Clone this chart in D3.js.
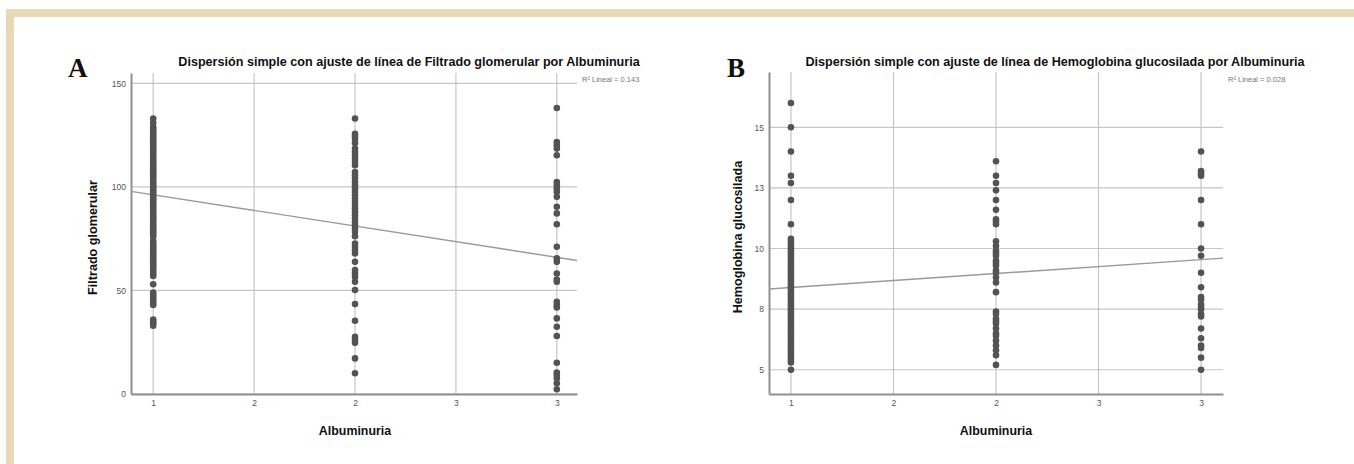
<!DOCTYPE html>
<html>
<head>
<meta charset="utf-8">
<script src="https://cdn.jsdelivr.net/npm/d3@7"></script>
<style>
  html, body { margin: 0; padding: 0; background: #ffffff; }
  svg { display: block; }
</style>
</head>
<body>
<svg id="chart" width="1354" height="464"></svg>
<script>
// ---------- DATA ----------
const xTickValues = [1, 1.5, 2, 2.5, 3];
const xTickLabels = ["1", "2", "2", "3", "3"];

// Panel A: Filtrado glomerular by Albuminuria
const aTickValues = [0, 50, 100, 150];
const aTickLabels = ["0", "50", "100", "150"];
const aGroup1 = [133, 131, 129, 128, 127, 126, 125, 124, 123, 122, 121, 120, 119, 118, 117, 116, 115, 114, 113, 112,
  111, 110, 109, 108, 107, 106, 105, 104, 103, 102, 101, 100, 99, 98, 97, 96, 95, 94, 93, 92, 91, 90, 89, 88, 87,
  86, 85, 84, 83, 82, 81, 80, 79, 78, 77, 76, 74, 73, 72, 71, 70, 69, 68, 67, 66, 65, 64, 63, 62, 61, 60, 59, 58,
  57, 53, 49, 48, 47, 46, 45, 44, 43, 36, 35, 34, 33];
const aGroup2 = [133, 125.7, 124.5, 123.3, 121.2, 118.5, 116.9, 115.3, 113.7, 112.1, 110.5, 107.2, 105.6, 104, 102.4,
  100.8, 99.2, 97.6, 96, 94.4, 92.8, 91.2, 89.6, 87.9, 86.3, 84.7, 83.1, 81.5, 79.9, 78.3, 76.2, 72.7, 71.1, 69.5,
  67.9, 63.8, 59.8, 58.2, 56.6, 54.2, 50.2, 43.4, 35.4, 27.6, 26, 24.7, 17.2, 10];
const aGroup3 = [138.1, 121.7, 120.1, 118.5, 115.3, 102.4, 100.8, 99.2, 97.6, 95.2, 90.4, 87.2, 82, 71.1, 65.5, 63.8,
  58.2, 55.3, 54.2, 44.5, 42.9, 41.8, 36.5, 32.5, 28, 15.1, 10.3, 9.2, 7.6, 5.2, 2.3];
const aFit = [111.3, -15.1];   // intercept, slope
const aR2 = "R² Lineal = 0.143";

// Panel B: Hemoglobina glucosilada by Albuminuria
const bTickValues = [5, 7.5, 10, 12.5, 15];
const bTickLabels = ["5", "8", "10", "13", "15"];
const bGroup1 = [16, 15, 14, 13, 12.7, 12, 11, 10.4, 10.3, 10.2, 10.1, 10, 9.9, 9.8, 9.7, 9.6, 9.5, 9.4, 9.3, 9.2,
  9.1, 9, 8.9, 8.8, 8.7, 8.6, 8.5, 8.4, 8.3, 8.2, 8.1, 8, 7.9, 7.8, 7.7, 7.6, 7.5, 7.4, 7.3, 7.2, 7.1, 7, 6.9, 6.8,
  6.7, 6.6, 6.5, 6.4, 6.3, 6.2, 6.1, 6, 5.9, 5.8, 5.7, 5.6, 5.5, 5.4, 5.3, 5];
const bGroup2 = [13.6, 13, 12.7, 12.4, 12, 11.6, 11.2, 11.1, 11, 10.3, 10.1, 9.9, 9.8, 9.7, 9.5, 9.4, 9.3, 9.1, 9,
  8.8, 8.6, 8.2, 7.4, 7.3, 7.1, 7, 6.9, 6.7, 6.5, 6.4, 6.2, 6, 5.8, 5.6, 5.2];
const bGroup3 = [14, 13.2, 13.1, 13, 12, 11, 10, 9.7, 9, 8.4, 8, 7.9, 7.7, 7.6, 7.5, 7.3, 7.2, 6.7, 6.3, 6, 5.9, 5.5, 5];
const bFit = [7.82, 0.574];
const bR2 = "R² Lineal = 0.028";

const xTitle = "Albuminuria";

// ---------- DRAW ----------
const svg = d3.select("#chart");
const FONT = "'Liberation Sans', Arial, sans-serif";

// page frame (beige band on top and left)
svg.append("rect").attr("x", 6).attr("y", 9).attr("width", 1348).attr("height", 8).attr("fill", "#e7d8b8");
svg.append("rect").attr("x", 6).attr("y", 9).attr("width", 8).attr("height", 455).attr("fill", "#e7d8b8");

function panel(cfg) {
  const g = svg.append("g");
  const x = d3.scaleLinear().domain(cfg.xDomain).range([cfg.left, cfg.right]);
  const y = d3.scaleLinear().domain(cfg.yDomain).range([cfg.bottom, cfg.top]);

  // horizontal gridlines
  g.selectAll(".hg").data(cfg.yTicks).join("line")
    .attr("x1", cfg.left).attr("x2", cfg.right)
    .attr("y1", d => y(d)).attr("y2", d => y(d))
    .attr("stroke", "#c6c6c6").attr("stroke-width", 1.2);
  // vertical gridlines
  g.selectAll(".vg").data(xTickValues).join("line")
    .attr("x1", d => x(d)).attr("x2", d => x(d))
    .attr("y1", cfg.top).attr("y2", cfg.bottom)
    .attr("stroke", "#c6c6c6").attr("stroke-width", 1.2);

  // axes via d3 axis generators
  const xAxis = d3.axisBottom(x).tickValues(xTickValues)
    .tickFormat((d, i) => xTickLabels[i]).tickSize(0).tickPadding(6);
  const yAxis = d3.axisLeft(y).tickValues(cfg.yTicks)
    .tickFormat((d, i) => cfg.yLabels[i]).tickSize(0).tickPadding(5);

  const gx = g.append("g").attr("transform", `translate(0,${cfg.bottom})`).call(xAxis);
  const gy = g.append("g").attr("transform", `translate(${cfg.left},0)`).call(yAxis);
  [gx, gy].forEach(a => {
    a.select(".domain").attr("stroke", "#8f8f8f").attr("stroke-width", 2);
    a.selectAll("text").attr("font-family", FONT).attr("font-size", 8.5).attr("fill", "#555");
  });

  // fit line
  const xd = cfg.xDomain;
  g.append("line")
    .attr("x1", x(xd[0])).attr("y1", y(cfg.fit[0] + cfg.fit[1] * xd[0]))
    .attr("x2", x(xd[1])).attr("y2", y(cfg.fit[0] + cfg.fit[1] * xd[1]))
    .attr("stroke", "#9a9a9a").attr("stroke-width", 1.4);

  // points
  cfg.groups.forEach((vals, gi) => {
    g.selectAll(".p" + gi).data(vals).join("circle")
      .attr("cx", x(gi + 1)).attr("cy", d => y(d)).attr("r", 3.3)
      .attr("fill", "#535353");
  });

  // title
  g.append("text").attr("x", cfg.titleX).attr("y", 66).attr("text-anchor", "middle")
    .attr("font-family", FONT).attr("font-weight", "bold").attr("font-size", 12.6).attr("fill", "#111")
    .text(cfg.title);
  // R2 label
  g.append("text").attr("x", cfg.right + 5).attr("y", 82)
    .attr("font-family", FONT).attr("font-size", 7.5).attr("fill", "#777")
    .text(cfg.r2);
  // y title
  g.append("text").attr("transform", `translate(${cfg.yTitleX},${(cfg.top + cfg.bottom) / 2 + 4}) rotate(-90)`)
    .attr("text-anchor", "middle").attr("dy", "0.35em")
    .attr("font-family", FONT).attr("font-weight", "bold").attr("font-size", 12.6).attr("fill", "#111")
    .text(cfg.yTitle);
  // x title
  g.append("text").attr("x", x(2)).attr("y", 435).attr("text-anchor", "middle")
    .attr("font-family", FONT).attr("font-weight", "bold").attr("font-size", 12.4).attr("fill", "#111")
    .text(xTitle);
  // panel letter
  g.append("text").attr("x", cfg.letterX).attr("y", 77)
    .attr("font-family", "'Liberation Serif', 'Times New Roman', serif").attr("font-weight", "bold")
    .attr("font-size", 27).attr("fill", "#111").text(cfg.letter);
}

panel({
  left: 131, right: 577, top: 73, bottom: 394,
  xDomain: [0.89, 3.1], yDomain: [0, 155],
  yTicks: aTickValues, yLabels: aTickLabels,
  groups: [aGroup1, aGroup2, aGroup3], fit: aFit, r2: aR2,
  title: "Dispersión simple con ajuste de línea de Filtrado glomerular por Albuminuria", titleX: 409,
  yTitle: "Filtrado glomerular", yTitleX: 93,
  letter: "A", letterX: 68
});
panel({
  left: 769, right: 1223, top: 72, bottom: 394,
  xDomain: [0.893, 3.107], yDomain: [4.0, 17.28],
  yTicks: bTickValues, yLabels: bTickLabels,
  groups: [bGroup1, bGroup2, bGroup3], fit: bFit, r2: bR2,
  title: "Dispersión simple con ajuste de línea de Hemoglobina glucosilada por Albuminuria", titleX: 1055,
  yTitle: "Hemoglobina glucosilada", yTitleX: 738,
  letter: "B", letterX: 727
});
</script>
</body>
</html>
